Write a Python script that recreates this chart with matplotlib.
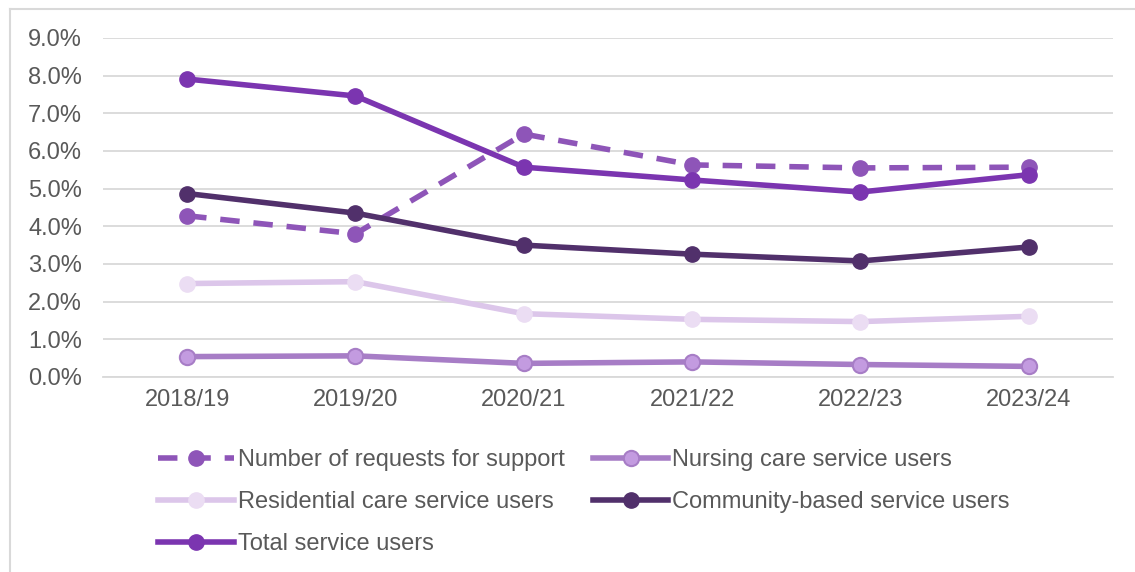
import matplotlib.pyplot as plt
from matplotlib.lines import Line2D

plt.rcParams['font.family'] = ['Liberation Sans', 'DejaVu Sans']

years = ["2018/19", "2019/20", "2020/21", "2021/22", "2022/23", "2023/24"]
requests = [4.28, 3.80, 6.45, 5.63, 5.55, 5.57]
nursing = [0.54, 0.56, 0.36, 0.40, 0.33, 0.28]
residential = [2.48, 2.53, 1.68, 1.53, 1.47, 1.61]
community = [4.87, 4.35, 3.50, 3.26, 3.08, 3.45]
total = [7.91, 7.46, 5.57, 5.23, 4.91, 5.37]

fig = plt.figure(figsize=(11.35, 5.72), dpi=100)
ax = fig.add_axes([0.0907, 0.341, 0.8899, 0.5926])
x = list(range(len(years)))

lw = 4
ms = 11
h_req, = ax.plot(x, requests, color='#8E55B8', lw=lw, ls=(0, (3.5, 2.5)), marker='o', ms=ms,
                 label='Number of requests for support', zorder=3)
h_nur, = ax.plot(x, nursing, color='#A77DC6', lw=lw, marker='o', ms=ms, mfc='#C39BE0', mec='#A77DC6', mew=1.5,
                 label='Nursing care service users', zorder=3)
h_res, = ax.plot(x, residential, color='#DCC6EA', lw=lw, marker='o', ms=ms, mfc='#EBDDF3', mec='#EBDDF3',
                 label='Residential care service users', zorder=3)
h_com, = ax.plot(x, community, color='#51306B', lw=lw, marker='o', ms=ms,
                 label='Community-based service users', zorder=3)
h_tot, = ax.plot(x, total, color='#7B35B0', lw=lw, marker='o', ms=ms,
                 label='Total service users', zorder=3)

ax.set_xlim(-0.5, len(years) - 0.5)
ax.set_ylim(0, 9)
ax.set_yticks([i for i in range(10)])
ax.set_yticklabels([f"{i:.1f}%" for i in range(10)])
ax.set_xticks(x)
ax.set_xticklabels(years)
ax.grid(axis='y', color='#D9D9D9', lw=1.3)
ax.set_axisbelow(True)
for s in ['left', 'right', 'top']:
    ax.spines[s].set_visible(False)
ax.spines['bottom'].set_color('#D9D9D9')
ax.spines['bottom'].set_linewidth(1.3)
ax.tick_params(length=0, labelsize=17, colors='#595959', pad=9)
ax.tick_params(axis='y', pad=15)

# row-major order like the original: fill columns so rows read across
handles = [h_req, h_res, h_tot, h_nur, h_com]
fig.legend(handles=handles, labels=[h.get_label() for h in handles],
           loc='upper left', bbox_to_anchor=(0.131, 0.231), ncol=2, frameon=False,
           fontsize=17, labelcolor='#595959', handlelength=3.2, handletextpad=0.17,
           columnspacing=1.2, labelspacing=0.85, borderaxespad=0)

# frame lines at top and left like the source image
fig.add_artist(Line2D([0.009, 1.0], [0.984, 0.984], transform=fig.transFigure, color='#D9D9D9', lw=1.5))
fig.add_artist(Line2D([0.009, 0.009], [0.0, 0.984], transform=fig.transFigure, color='#D9D9D9', lw=1.5))

fig.savefig('out.png', dpi=100)
